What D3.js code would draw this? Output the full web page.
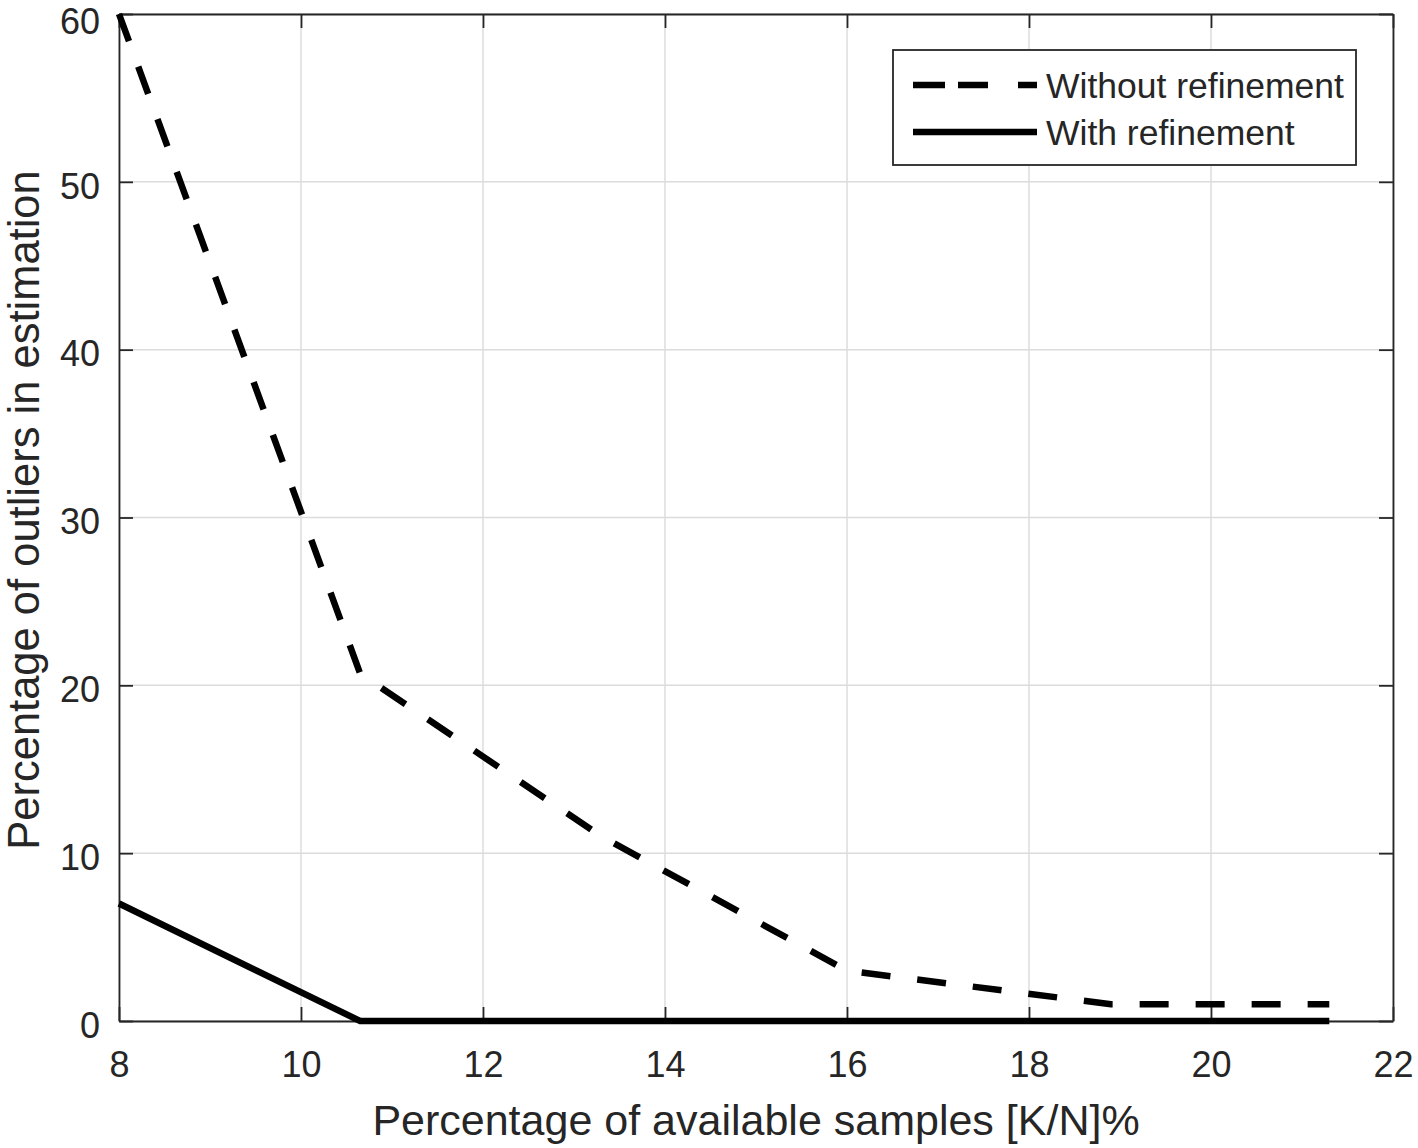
<!DOCTYPE html>
<html><head><meta charset="utf-8">
<script src="https://cdn.jsdelivr.net/npm/d3@7"></script>
<style>body{margin:0;background:#fff;} text{font-family:"Liberation Sans",Arial,sans-serif;fill:#262626;}</style>
</head><body><svg id="c" width="1418" height="1148"></svg>
<script>
const xValues = [8, 10.65, 13.3, 16, 18.9, 21.3];
const withoutRefinement = [60, 20.7, 11, 3, 1, 1];
const withRefinement = [7, 0, 0, 0, 0, 0];
const xTicks = [8, 10, 12, 14, 16, 18, 20, 22];
const yTicks = [0, 10, 20, 30, 40, 50, 60];
const seriesNames = ["Without refinement", "With refinement"];
const xLabel = "Percentage of available samples [K/N]%";
const yLabel = "Percentage of outliers in estimation";

const svg = d3.select("#c");
const L = 119, R = 1393, T = 14, B = 1021;
const x = d3.scaleLinear().domain([8, 22]).range([L, R]);
const y = d3.scaleLinear().domain([0, 60]).range([B, T]);
const axisCol = "#262626";

// grid
const g = svg.append("g");
g.selectAll("line.gx").data(xTicks).enter().append("line")
  .attr("x1", d => x(d)).attr("x2", d => x(d)).attr("y1", T).attr("y2", B)
  .attr("stroke", "#dcdcdc").attr("stroke-width", 1.5);
g.selectAll("line.gy").data(yTicks).enter().append("line")
  .attr("y1", d => y(d)).attr("y2", d => y(d)).attr("x1", L).attr("x2", R)
  .attr("stroke", "#dcdcdc").attr("stroke-width", 1.5);

// axes (ticks inside)
const tickLen = 14;
const xa = svg.append("g").attr("transform", `translate(0,${B})`)
  .call(d3.axisBottom(x).tickValues(xTicks).tickSizeInner(-tickLen).tickSizeOuter(0).tickPadding(30).tickFormat(d3.format("d")));
const xaTop = svg.append("g").attr("transform", `translate(0,${T})`)
  .call(d3.axisTop(x).tickValues(xTicks).tickSizeInner(-tickLen).tickSizeOuter(0).tickFormat(""));
const ya = svg.append("g").attr("transform", `translate(${L},0)`)
  .call(d3.axisLeft(y).tickValues(yTicks).tickSizeInner(-tickLen).tickSizeOuter(0).tickPadding(19).tickFormat(d3.format("d")));
const yaR = svg.append("g").attr("transform", `translate(${R},0)`)
  .call(d3.axisRight(y).tickValues(yTicks).tickSizeInner(-tickLen).tickSizeOuter(0).tickFormat(""));
[xa, xaTop, ya, yaR].forEach(a => {
  a.select(".domain").attr("stroke", axisCol).attr("stroke-width", 1.8);
  a.selectAll(".tick line").attr("stroke", axisCol).attr("stroke-width", 1.8);
  a.selectAll(".tick text").attr("font-size", 36).attr("fill", axisCol)
    .style("font-family", '"Liberation Sans",Arial,sans-serif');
});
xa.selectAll(".tick text").attr("dy", "0.71em");
ya.selectAll(".tick text").attr("dy", d => d === 60 ? "0.53em" : "0.45em");

// lines
const line = d3.line().x(d => x(d[0])).y(d => y(d[1]));
svg.append("path").datum(xValues.map((v, i) => [v, withoutRefinement[i]]))
  .attr("d", line).attr("fill", "none").attr("stroke", "#000").attr("stroke-width", 6.5)
  .attr("stroke-dasharray", "29,27");
svg.append("path").datum(xValues.map((v, i) => [v, withRefinement[i]]))
  .attr("d", line).attr("fill", "none").attr("stroke", "#000").attr("stroke-width", 6.5);

// legend
const lg = svg.append("g");
lg.append("rect").attr("x", 893).attr("y", 50).attr("width", 463).attr("height", 115)
  .attr("fill", "#fff").attr("stroke", axisCol).attr("stroke-width", 1.8);
const rows = [85, 132];
lg.append("line").attr("x1", 913).attr("x2", 1037).attr("y1", rows[0]).attr("y2", rows[0])
  .attr("stroke", "#000").attr("stroke-width", 6.5).attr("stroke-dasharray", "32,13,30,30,19");
lg.append("line").attr("x1", 913).attr("x2", 1037).attr("y1", rows[1]).attr("y2", rows[1])
  .attr("stroke", "#000").attr("stroke-width", 6.5);
seriesNames.forEach((n, i) => {
  lg.append("text").attr("x", 1046).attr("y", rows[i]).attr("dy", "0.36em")
    .attr("font-size", 35.5).text(n);
});

// axis labels
svg.append("text").attr("x", (L + R) / 2).attr("y", 1135).attr("text-anchor", "middle")
  .attr("font-size", 43).text(xLabel);
svg.append("text").attr("transform", `translate(39,510) rotate(-90)`)
  .attr("text-anchor", "middle").attr("font-size", 43.5).text(yLabel);
</script></body></html>
